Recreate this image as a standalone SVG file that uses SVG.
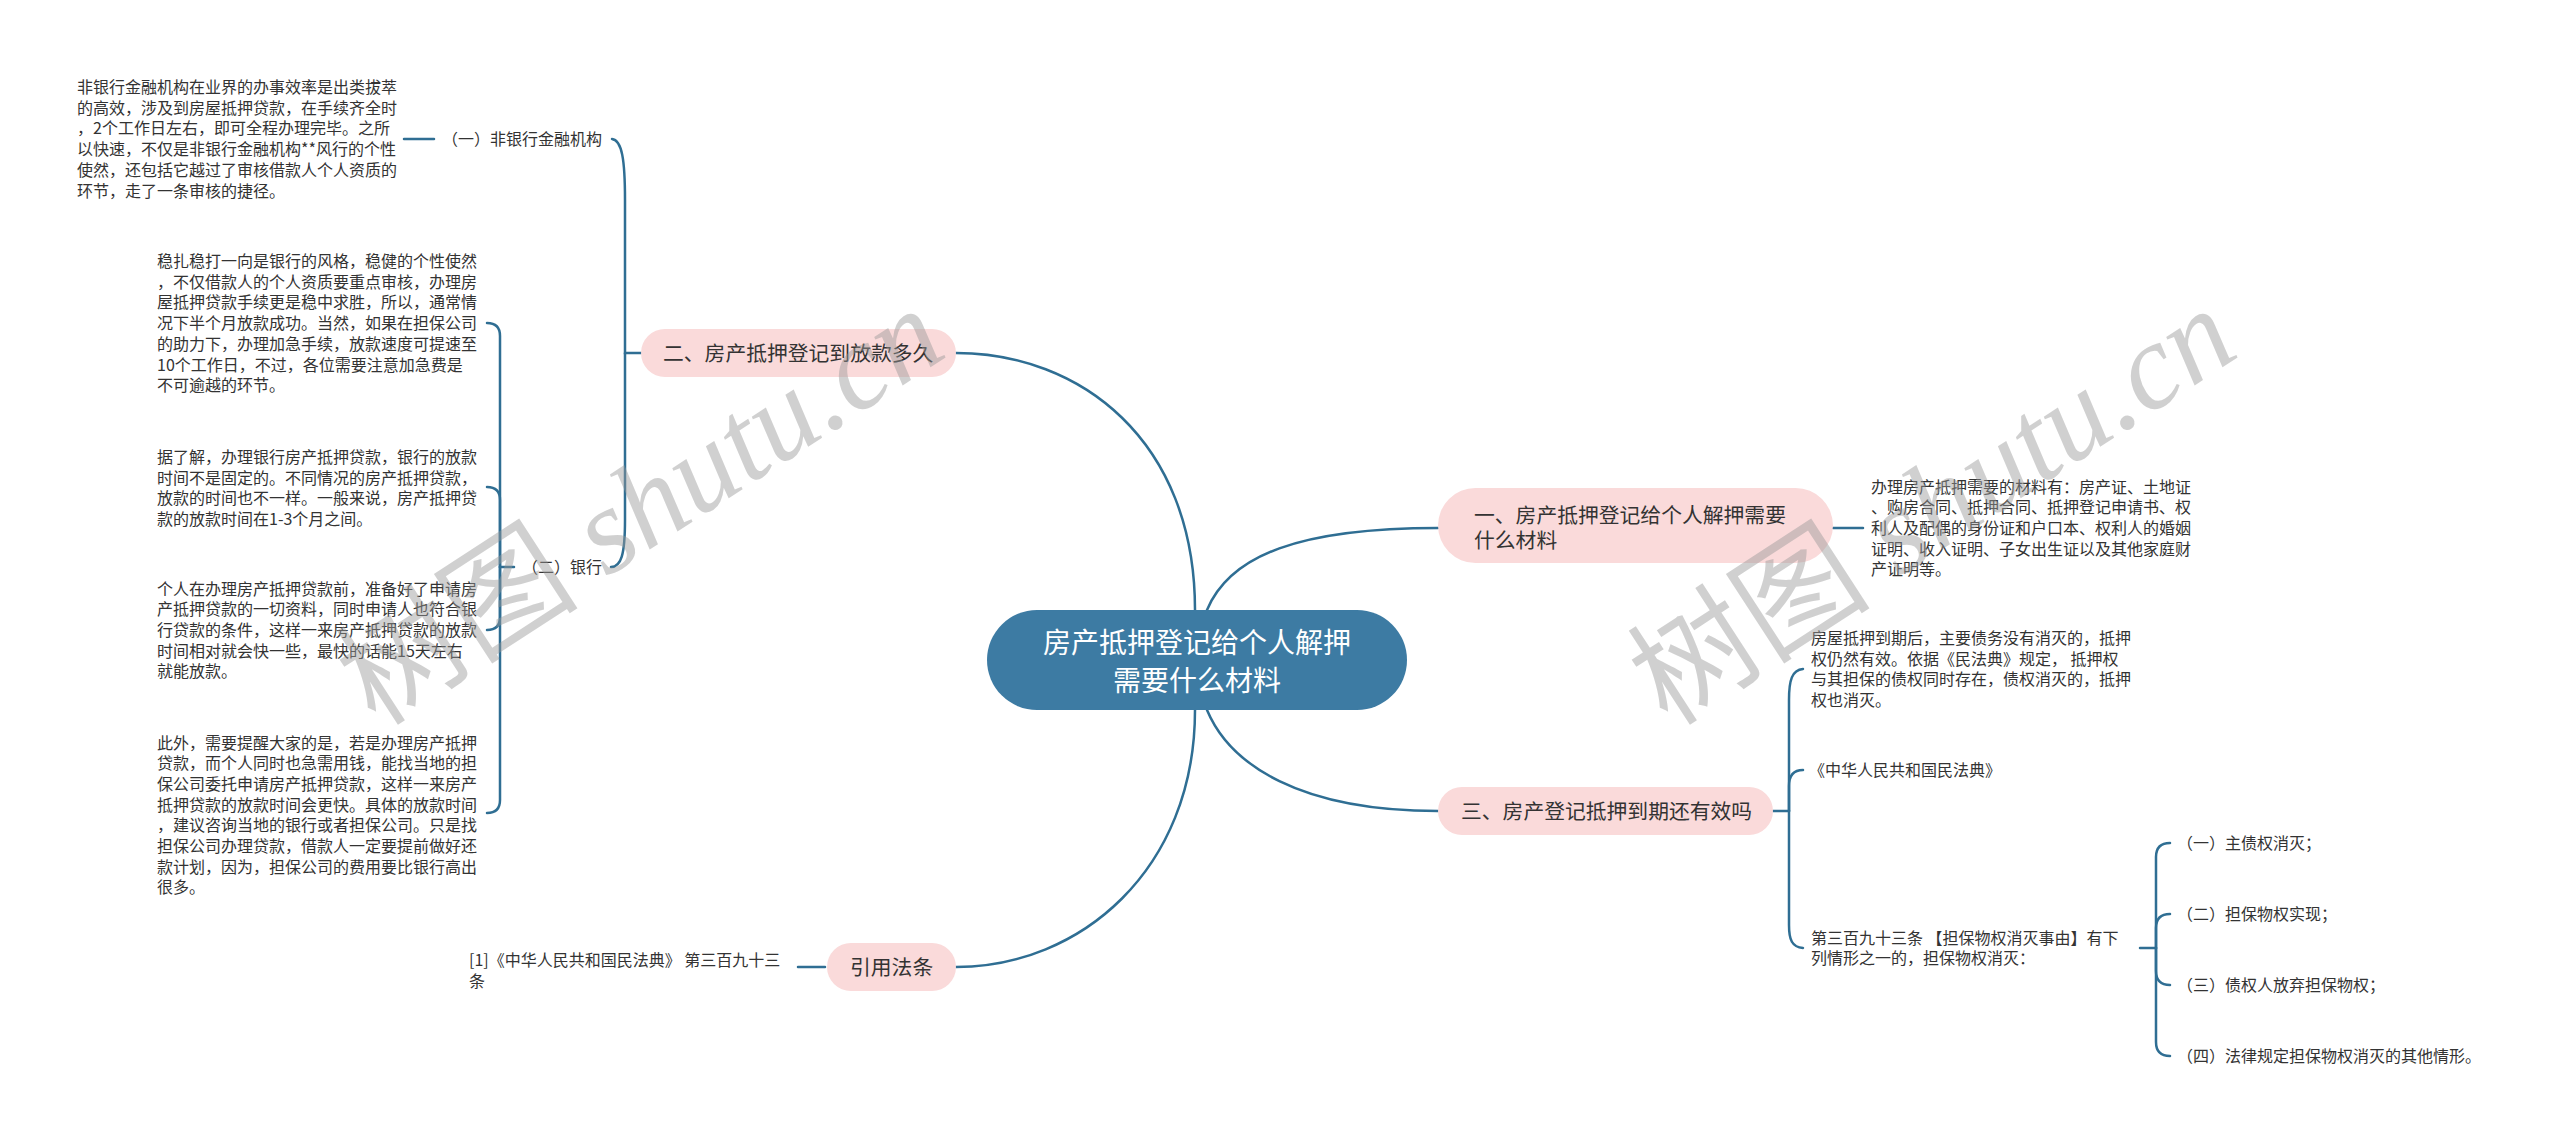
<svg xmlns="http://www.w3.org/2000/svg" width="2560" height="1142" viewBox="0 0 2560 1142">
<style>
.t{font-family:"Noto Sans CJK SC","Liberation Sans",sans-serif;font-size:16px;fill:#333;}
.l1{font-family:"Noto Sans CJK SC","Liberation Sans",sans-serif;font-size:20.8px;fill:#333;}
.c{font-family:"Noto Sans CJK SC","Liberation Sans",sans-serif;font-size:28px;fill:#fff;text-anchor:middle;}
.pk{fill:#fadada;}
.ln{fill:none;stroke:#2f6e93;stroke-width:2.5;stroke-linecap:round;}
.wm{font-family:"Liberation Serif","Noto Sans CJK SC",serif;font-size:122px;fill:#999;opacity:0.45;text-anchor:middle;}
.wm .it{font-style:italic;}
</style>
<rect width="2560" height="1142" fill="#fff"/>
<g id="connectors">
<path class="ln" d="M1195 610 C1195 440 1080 353 956 353"/>
<path class="ln" d="M1207 610 C1230 555 1300 528 1438 528"/>
<path class="ln" d="M1207 710 C1230 765 1300 811 1438 811"/>
<path class="ln" d="M1195 710 C1195 870 1080 967 956 967"/>
<path class="ln" d="M641 353 H625 V200 C625 160 622 140 612 139"/>
<path class="ln" d="M625 353 V520 C625 555 621 567 611 567"/>
<path class="ln" d="M404 139 H434"/>
<path class="ln" d="M514 567 H500"/>
<path class="ln" d="M500 567 V336 Q500 323 487 323"/>
<path class="ln" d="M500 567 V500 Q500 487 487 487"/>
<path class="ln" d="M500 567 V617 Q500 630 487 630"/>
<path class="ln" d="M500 567 V800 Q500 813 487 813"/>
<path class="ln" d="M798 967 H825"/>
<path class="ln" d="M1833 528 H1863"/>
<path class="ln" d="M1773 811 H1789"/>
<path class="ln" d="M1789 811 V700 C1789 680 1792 670 1803 669"/>
<path class="ln" d="M1789 811 V786 Q1789 770 1803 770"/>
<path class="ln" d="M1789 811 V925 C1789 940 1792 947 1803 948"/>
<path class="ln" d="M2140 948 H2156"/>
<path class="ln" d="M2156 948 V857 Q2156 843 2170 843"/>
<path class="ln" d="M2156 948 V928 Q2156 914 2170 914"/>
<path class="ln" d="M2156 948 V971 Q2156 985 2170 985"/>
<path class="ln" d="M2156 948 V1042 Q2156 1056 2170 1056"/>
</g>
<g id="center">
<rect x="987" y="610" width="420" height="100" rx="50" fill="#3d7ba3"/>
<text class="c" x="1197" y="653">房产抵押登记给个人解押</text>
<text class="c" x="1197" y="691">需要什么材料</text>
</g>
<g id="n2">
<rect class="pk" x="641" y="329" width="315" height="48" rx="24"/>
<text class="l1" x="663" y="361">二、房产抵押登记到放款多久</text>
</g>
<g id="n2-1">
<text class="t" x="442" y="145">（一）非银行金融机构</text>
</g>
<g id="n2-1-1">
<text class="t"><tspan x="77" y="93">非银行金融机构在业界的办事效率是出类拔萃</tspan><tspan x="77" y="113.7">的高效，涉及到房屋抵押贷款，在手续齐全时</tspan><tspan x="77" y="134.4">，2个工作日左右，即可全程办理完毕。之所</tspan><tspan x="77" y="155.1">以快速，不仅是非银行金融机构**风行的个性</tspan><tspan x="77" y="175.8">使然，还包括它越过了审核借款人个人资质的</tspan><tspan x="77" y="196.5">环节，走了一条审核的捷径。</tspan></text>
</g>
<g id="n2-2">
<text class="t" x="522" y="573">（二）银行</text>
</g>
<g id="n2-2-1">
<text class="t"><tspan x="157" y="267">稳扎稳打一向是银行的风格，稳健的个性使然</tspan><tspan x="157" y="287.7">，不仅借款人的个人资质要重点审核，办理房</tspan><tspan x="157" y="308.4">屋抵押贷款手续更是稳中求胜，所以，通常情</tspan><tspan x="157" y="329.1">况下半个月放款成功。当然，如果在担保公司</tspan><tspan x="157" y="349.8">的助力下，办理加急手续，放款速度可提速至</tspan><tspan x="157" y="370.5">10个工作日，不过，各位需要注意加急费是</tspan><tspan x="157" y="391.2">不可逾越的环节。</tspan></text>
</g>
<g id="n2-2-2">
<text class="t"><tspan x="157" y="463">据了解，办理银行房产抵押贷款，银行的放款</tspan><tspan x="157" y="483.7">时间不是固定的。不同情况的房产抵押贷款，</tspan><tspan x="157" y="504.4">放款的时间也不一样。一般来说，房产抵押贷</tspan><tspan x="157" y="525.1">款的放款时间在1-3个月之间。</tspan></text>
</g>
<g id="n2-2-3">
<text class="t"><tspan x="157" y="594.6">个人在办理房产抵押贷款前，准备好了申请房</tspan><tspan x="157" y="615.3">产抵押贷款的一切资料，同时申请人也符合银</tspan><tspan x="157" y="636">行贷款的条件，这样一来房产抵押贷款的放款</tspan><tspan x="157" y="656.7">时间相对就会快一些，最快的话能15天左右</tspan><tspan x="157" y="677.4">就能放款。</tspan></text>
</g>
<g id="n2-2-4">
<text class="t"><tspan x="157" y="748.5">此外，需要提醒大家的是，若是办理房产抵押</tspan><tspan x="157" y="769.2">贷款，而个人同时也急需用钱，能找当地的担</tspan><tspan x="157" y="789.9">保公司委托申请房产抵押贷款，这样一来房产</tspan><tspan x="157" y="810.6">抵押贷款的放款时间会更快。具体的放款时间</tspan><tspan x="157" y="831.3">，建议咨询当地的银行或者担保公司。只是找</tspan><tspan x="157" y="852">担保公司办理贷款，借款人一定要提前做好还</tspan><tspan x="157" y="872.7">款计划，因为，担保公司的费用要比银行高出</tspan><tspan x="157" y="893.4">很多。</tspan></text>
</g>
<g id="n4">
<rect class="pk" x="827" y="943" width="129" height="48" rx="24"/>
<text class="l1" x="850" y="975">引用法条</text>
</g>
<g id="n4-1">
<text class="t"><tspan x="469" y="966">[1]《中华人民共和国民法典》 第三百九十三</tspan><tspan x="469" y="986.7">条</tspan></text>
</g>
<g id="n1">
<rect class="pk" x="1438" y="488" width="395" height="75" rx="37.5"/>
<text class="l1"><tspan x="1474" y="523">一、房产抵押登记给个人解押需要</tspan><tspan x="1474" y="548">什么材料</tspan></text>
</g>
<g id="n1-1">
<text class="t"><tspan x="1871" y="492.6">办理房产抵押需要的材料有：房产证、土地证</tspan><tspan x="1871" y="513.3">、购房合同、抵押合同、抵押登记申请书、权</tspan><tspan x="1871" y="534">利人及配偶的身份证和户口本、权利人的婚姻</tspan><tspan x="1871" y="554.7">证明、收入证明、子女出生证以及其他家庭财</tspan><tspan x="1871" y="575.4">产证明等。</tspan></text>
</g>
<g id="n3">
<rect class="pk" x="1438" y="787" width="335" height="48" rx="24"/>
<text class="l1" x="1461" y="819">三、房产登记抵押到期还有效吗</text>
</g>
<g id="n3-1">
<text class="t"><tspan x="1811" y="644">房屋抵押到期后，主要债务没有消灭的，抵押</tspan><tspan x="1811" y="664.7">权仍然有效。依据《民法典》规定， 抵押权</tspan><tspan x="1811" y="685.4">与其担保的债权同时存在，债权消灭的，抵押</tspan><tspan x="1811" y="706.1">权也消灭。</tspan></text>
</g>
<g id="n3-2">
<text class="t" x="1809" y="776">《中华人民共和国民法典》</text>
</g>
<g id="n3-3">
<text class="t"><tspan x="1811" y="943.6">第三百九十三条 【担保物权消灭事由】有下</tspan><tspan x="1811" y="964.3">列情形之一的，担保物权消灭：</tspan></text>
</g>
<g id="n3-3-1"><text class="t" x="2177" y="849">（一）主债权消灭；</text></g>
<g id="n3-3-2"><text class="t" x="2177" y="920">（二）担保物权实现；</text></g>
<g id="n3-3-3"><text class="t" x="2177" y="991">（三）债权人放弃担保物权；</text></g>
<g id="n3-3-4"><text class="t" x="2177" y="1062">（四）法律规定担保物权消灭的其他情形。</text></g>
<g id="watermarks">
<text class="wm" transform="translate(663 541) rotate(-33)">树图 <tspan class="it">shutu.cn</tspan></text>
<text class="wm" transform="translate(1955 541) rotate(-33)">树图 <tspan class="it">shutu.cn</tspan></text>
</g>
</svg>
